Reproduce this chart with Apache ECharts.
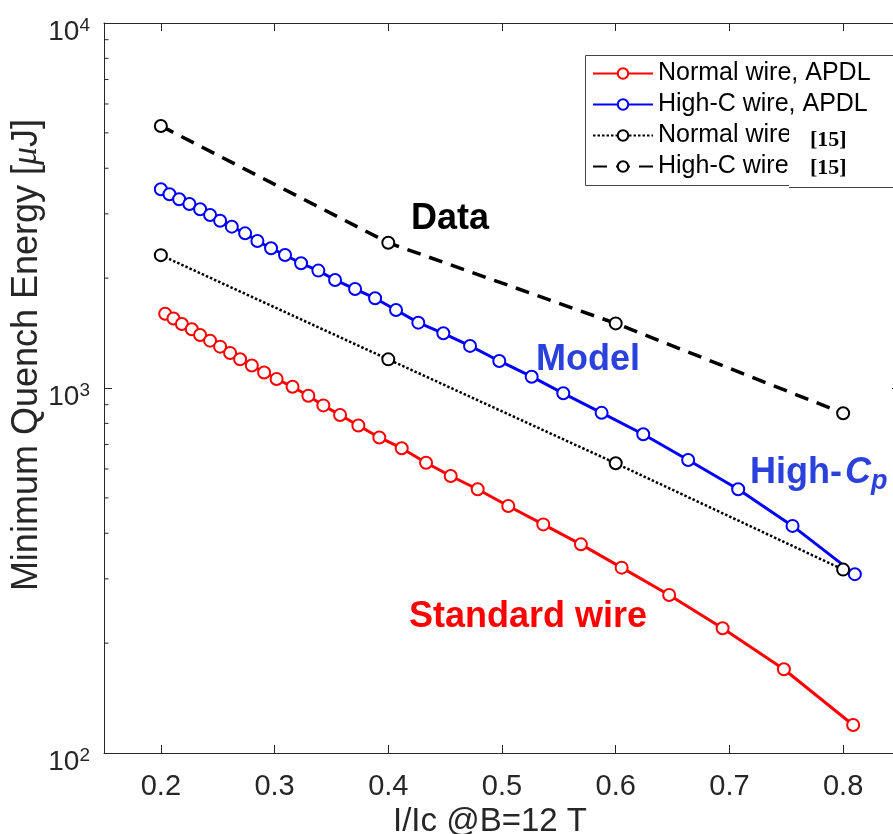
<!DOCTYPE html>
<html>
<head>
<meta charset="utf-8">
<script src="https://cdn.jsdelivr.net/npm/echarts@6/dist/echarts.min.js"></script>
<style>
html,body{margin:0;padding:0;background:#fff;}
#chart{width:893px;height:834px;}
</style>
</head>
<body>
<div id="chart"></div>
<script>
// ---------- data ----------
const xTicks = [0.2, 0.3, 0.4, 0.5, 0.6, 0.7, 0.8];
const yMinorTicks = [200, 300, 400, 500, 600, 700, 800, 900, 2000, 3000, 4000, 5000, 6000, 7000, 8000, 9000];

const normalApdlX = [0.2038, 0.2111, 0.2185, 0.2272, 0.2345, 0.2433, 0.2521, 0.2609, 0.2697, 0.2800,
  0.2908, 0.3018, 0.3158, 0.3297, 0.3429, 0.3576, 0.3737, 0.3921, 0.4118, 0.4332,
  0.4549, 0.4786, 0.5055, 0.5363, 0.5694, 0.6052, 0.6470, 0.6940, 0.7479, 0.8088];
const normalApdlY = [1597, 1550, 1497, 1448, 1397, 1348, 1298, 1247, 1199, 1152,
  1103, 1058, 1008, 952, 896, 843, 789, 732, 684, 624,
  574, 528, 475, 423, 373, 322, 271, 219.6, 169.6, 119.3];

const highCApdlX = [0.2000, 0.2076, 0.2161, 0.2251, 0.2345, 0.2433, 0.2521, 0.2624, 0.2741, 0.2849,
  0.2969, 0.3092, 0.3233, 0.3385, 0.3532, 0.3708, 0.3884, 0.4068, 0.4264, 0.4484,
  0.4719, 0.4976, 0.5261, 0.5539, 0.5876, 0.6242, 0.6637, 0.7077, 0.7555, 0.8103];
const highCApdlY = [3503, 3394, 3289, 3192, 3087, 2979, 2873, 2767, 2653, 2527,
  2414, 2314, 2196, 2097, 1977, 1867, 1762, 1636, 1510, 1412,
  1304, 1186, 1074, 967, 855, 747, 635, 528, 419, 309];

const dataX = [0.2, 0.4, 0.6, 0.8];
const normalDataY = [2312, 1198, 622, 318];
const highCDataY = [5224, 2500, 1503, 853];

const seriesNames = ['Normal wire, APDL', 'High-C wire, APDL', 'Normal wire', 'High-C wire,'];

// ---------- chart ----------
const FONT = '"Liberation Sans", Arial, Helvetica, sans-serif';
const AX = '#262626';
const X_MIN = 0.15, X_MAX = 0.85;

const zip = (xs, ys) => xs.map((x, i) => [x, ys[i]]);

const chart = echarts.init(document.getElementById('chart'), null, {renderer: 'canvas'});

const option = {
  backgroundColor: '#ffffff',
  animation: false,
  grid: {left: 104, width: 796, top: 23, height: 730, containLabel: false, outerBoundsMode: 'none'},
  legend: {
    data: seriesNames,
    orient: 'vertical',
    left: 592,
    top: 58,
    padding: 0,
    itemGap: 0,
    itemWidth: 60,
    itemHeight: 13,
    textStyle: {fontFamily: FONT, fontSize: 25, lineHeight: 31, color: '#000'}
  },
  xAxis: [{
    type: 'value', min: X_MIN, max: X_MAX, position: 'bottom',
    name: 'I/Ic @B=12 T', nameLocation: 'middle', nameGap: 52, nameMoveOverlap: false,
    nameTextStyle: {fontFamily: FONT, fontSize: 33, color: AX, padding: [0, 24, 0, 0]},
    axisLine: {show: true, onZero: false, lineStyle: {color: AX, width: 1}},
    axisTick: {show: true, inside: true, length: 8, customValues: xTicks, lineStyle: {color: AX}},
    axisLabel: {show: true, customValues: xTicks, margin: 19, fontFamily: FONT, fontSize: 29, color: AX,
      formatter: v => v.toFixed(1)},
    splitLine: {show: false}
  }, {
    type: 'value', min: X_MIN, max: X_MAX, position: 'top',
    axisLine: {show: true, onZero: false, lineStyle: {color: AX, width: 1}},
    axisTick: {show: true, inside: true, length: 8, customValues: xTicks, lineStyle: {color: AX}},
    axisLabel: {show: false},
    splitLine: {show: false}
  }],
  yAxis: [{
    type: 'log', logBase: 10, min: 100, max: 10000, position: 'left',
    axisLine: {show: true, onZero: false, lineStyle: {color: AX, width: 1}},
    axisTick: {show: true, inside: true, length: 8, lineStyle: {color: AX}},
    axisLabel: {
      show: true, margin: 14, padding: [16, 0, 0, 0],
      formatter: v => '{b|10}{s|' + Math.round(Math.log10(v)) + '}',
      rich: {
        b: {fontFamily: FONT, fontSize: 28, color: AX, verticalAlign: 'bottom', lineHeight: 30, padding: [8, 0, 0, 0]},
        s: {fontFamily: FONT, fontSize: 19, color: AX, verticalAlign: 'top', lineHeight: 30}
      }
    },
    splitLine: {show: false},
    minorTick: {show: false}
  }, {
    type: 'log', logBase: 10, min: 100, max: 10000, position: 'right',
    axisLine: {show: true, onZero: false, lineStyle: {color: AX, width: 1}},
    axisTick: {show: true, inside: true, length: 8, lineStyle: {color: AX}},
    axisLabel: {show: false},
    splitLine: {show: false}
  }],
  series: [
    {
      name: 'minor ticks', type: 'custom', silent: true, clip: false, z: 1,
      xAxisIndex: 0, yAxisIndex: 0,
      data: yMinorTicks.map(v => [X_MIN, v]),
      renderItem: function (params, api) {
        const v = api.value(1);
        const l = api.coord([X_MIN, v]);
        const r = api.coord([X_MAX, v]);
        return {
          type: 'group',
          children: [
            {type: 'line', shape: {x1: l[0], y1: l[1], x2: l[0] + 4.5, y2: l[1]}, style: {stroke: AX, lineWidth: 1}},
            {type: 'line', shape: {x1: r[0] - 4.5, y1: r[1], x2: r[0], y2: r[1]}, style: {stroke: AX, lineWidth: 1}}
          ]
        };
      }
    },
    {
      name: seriesNames[0], type: 'line', data: zip(normalApdlX, normalApdlY),
      symbol: 'emptyCircle', symbolSize: 12, showAllSymbol: true,
      lineStyle: {color: '#ff0000', width: 3},
      itemStyle: {color: '#ff0000', borderColor: '#ff0000', borderWidth: 2.5},
      z: 3
    },
    {
      name: seriesNames[1], type: 'line', data: zip(highCApdlX, highCApdlY),
      symbol: 'emptyCircle', symbolSize: 12, showAllSymbol: true,
      lineStyle: {color: '#0000ff', width: 3},
      itemStyle: {color: '#0000ff', borderColor: '#0000ff', borderWidth: 2.5},
      z: 4
    },
    {
      name: seriesNames[2], type: 'line', data: zip(dataX, normalDataY),
      symbol: 'emptyCircle', symbolSize: 12, showAllSymbol: true,
      lineStyle: {color: '#000000', width: 2.5, type: [2.5, 2]},
      itemStyle: {color: '#000000', borderColor: '#000000', borderWidth: 3},
      z: 5
    },
    {
      name: seriesNames[3], type: 'line', data: zip(dataX, highCDataY),
      symbol: 'emptyCircle', symbolSize: 12, showAllSymbol: true,
      lineStyle: {color: '#000000', width: 3.5, type: [14, 9]},
      itemStyle: {color: '#000000', borderColor: '#000000', borderWidth: 3},
      z: 6
    }
  ],
  graphic: [
    // y axis title
    {type: 'text', z: 60, x: 27, y: 355, rotation: Math.PI / 2,
      style: {
        text: '{a|Minimum Quench Energy [}{i|μ}{a|J]}',
        align: 'center', verticalAlign: 'middle',
        rich: {
          a: {fontFamily: FONT, fontSize: 36, fill: AX},
          i: {fontFamily: '"Liberation Serif", "Times New Roman", serif', fontStyle: 'italic', fontSize: 36, fill: AX}
        }
      }},
    // legend frame
    {type: 'rect', z: 90, shape: {x: 585.5, y: 55.5, width: 330, height: 130},
      style: {fill: 'transparent', stroke: '#444', lineWidth: 1}},
    // pasted reference overlay
    {type: 'rect', z: 120, shape: {x: 789, y: 124, width: 120, height: 63}, style: {fill: '#ffffff'}},
    {type: 'line', z: 121, shape: {x1: 789, y1: 187.5, x2: 893, y2: 187.5}, style: {stroke: '#444', lineWidth: 1}},
    {type: 'text', z: 122, style: {x: 810, y: 140, text: '[15]', fill: '#000',
      font: 'bold 22px "Liberation Serif", "Times New Roman", serif', textVerticalAlign: 'middle'}},
    {type: 'text', z: 122, style: {x: 810, y: 168, text: '[15]', fill: '#000',
      font: 'bold 22px "Liberation Serif", "Times New Roman", serif', textVerticalAlign: 'middle'}},
    // annotations
    {type: 'text', z: 50, style: {x: 411, y: 219, text: 'Data', fill: '#000000',
      font: 'bold 36px ' + FONT, textVerticalAlign: 'middle'}},
    {type: 'text', z: 50, style: {x: 536, y: 360, text: 'Model', fill: '#2a41dc',
      font: 'bold 36px ' + FONT, textVerticalAlign: 'middle'}},
    {type: 'text', z: 50, style: {x: 750, y: 473, text: 'High-', fill: '#2a41dc',
      font: 'bold 36px ' + FONT, textVerticalAlign: 'middle'}},
    {type: 'text', z: 50, style: {x: 845, y: 473, text: 'C', fill: '#2a41dc',
      font: 'italic bold 36px ' + FONT, textVerticalAlign: 'middle'}},
    {type: 'text', z: 50, style: {x: 871, y: 482, text: 'p', fill: '#2a41dc',
      font: 'italic bold 27px ' + FONT, textVerticalAlign: 'middle'}},
    {type: 'text', z: 50, style: {x: 409, y: 617, text: 'Standard wire', fill: '#ff0000',
      font: 'bold 36px ' + FONT, textVerticalAlign: 'middle'}}
  ]
};

chart.setOption(option);
</script>
</body>
</html>
